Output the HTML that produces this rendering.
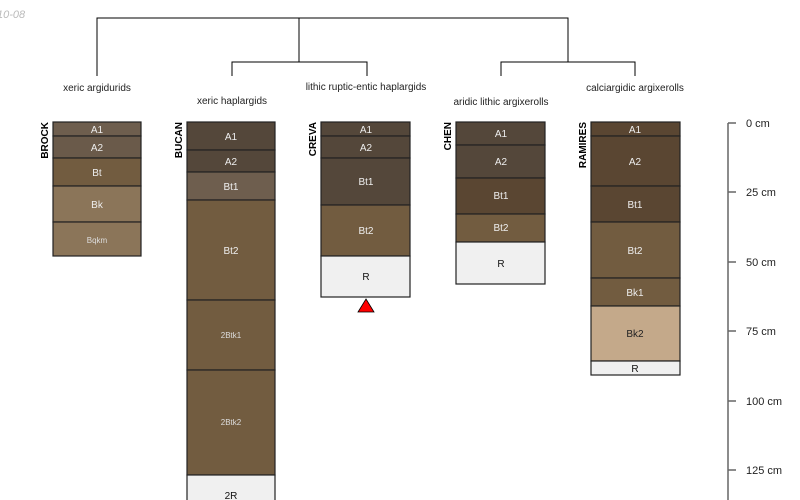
<!DOCTYPE html>
<html><head><meta charset="utf-8"><style>
html,body{margin:0;padding:0;background:#fff;}
svg{display:block;font-family:"Liberation Sans",sans-serif;}
</style></head><body>
<svg width="800" height="500" viewBox="0 0 800 500" xmlns="http://www.w3.org/2000/svg">
<text x="-3" y="18" font-size="11" font-style="italic" fill="#bbb">10-08</text>
<g stroke="#000" stroke-width="1" fill="none">
<polyline points="97,76 97,18 568,18 568,62"/>
<line x1="299" y1="18" x2="299" y2="62"/>
<polyline points="232,76 232,62 367,62 367,76"/>
<polyline points="501,76 501,62 635,62 635,76"/>
</g>
<g font-size="10" fill="#222" text-anchor="middle">
<text x="97" y="91">xeric argidurids</text>
<text x="232" y="104">xeric haplargids</text>
<text x="366" y="90">lithic ruptic-entic haplargids</text>
<text x="501" y="105">aridic lithic argixerolls</text>
<text x="635" y="91">calciargidic argixerolls</text>
</g>
<g stroke="#222" stroke-width="1.2">
<rect x="53" y="122" width="88" height="14" fill="#6e5e4e"/>
<rect x="53" y="136" width="88" height="22" fill="#6a5a4a"/>
<rect x="53" y="158" width="88" height="28" fill="#725c40"/>
<rect x="53" y="186" width="88" height="36" fill="#8b7559"/>
<rect x="53" y="222" width="88" height="34" fill="#8b7559"/>
<rect x="187" y="122" width="88" height="28" fill="#54473a"/>
<rect x="187" y="150" width="88" height="22" fill="#54473a"/>
<rect x="187" y="172" width="88" height="28" fill="#6e5e4e"/>
<rect x="187" y="200" width="88" height="100" fill="#725c40"/>
<rect x="187" y="300" width="88" height="70" fill="#725c40"/>
<rect x="187" y="370" width="88" height="105" fill="#725c40"/>
<rect x="187" y="475" width="88" height="30" fill="#f0f0f0"/>
<rect x="321" y="122" width="89" height="14" fill="#54473a"/>
<rect x="321" y="136" width="89" height="22" fill="#54473a"/>
<rect x="321" y="158" width="89" height="47" fill="#54473a"/>
<rect x="321" y="205" width="89" height="51" fill="#725c40"/>
<rect x="321" y="256" width="89" height="41" fill="#f0f0f0"/>
<rect x="456" y="122" width="89" height="23" fill="#54473a"/>
<rect x="456" y="145" width="89" height="33" fill="#54473a"/>
<rect x="456" y="178" width="89" height="36" fill="#5a4632"/>
<rect x="456" y="214" width="89" height="28" fill="#725c40"/>
<rect x="456" y="242" width="89" height="42" fill="#f0f0f0"/>
<rect x="591" y="122" width="89" height="14" fill="#5a4632"/>
<rect x="591" y="136" width="89" height="50" fill="#5a4632"/>
<rect x="591" y="186" width="89" height="36" fill="#5a4632"/>
<rect x="591" y="222" width="89" height="56" fill="#725c40"/>
<rect x="591" y="278" width="89" height="28" fill="#725c40"/>
<rect x="591" y="306" width="89" height="55" fill="#c4a98a"/>
<rect x="591" y="361" width="89" height="14" fill="#f0f0f0"/>
</g>
<polygon points="366,299 374,312 358,312" fill="#f00" stroke="#000" stroke-width="0.8"/>
<g font-size="10" text-anchor="middle" fill="#eee">
<text x="97" y="133">A1</text><text x="97" y="151">A2</text><text x="97" y="176">Bt</text><text x="97" y="208">Bk</text>
<text x="97" y="243" font-size="8" fill="#ddd">Bqkm</text>
<text x="231" y="140">A1</text><text x="231" y="165">A2</text><text x="231" y="190">Bt1</text><text x="231" y="254">Bt2</text>
<text x="231" y="338" font-size="8" fill="#ddd">2Btk1</text><text x="231" y="425" font-size="8" fill="#ddd">2Btk2</text>
<text x="231" y="499" fill="#111">2R</text>
<text x="366" y="133">A1</text><text x="366" y="151">A2</text><text x="366" y="185">Bt1</text><text x="366" y="234">Bt2</text>
<text x="366" y="280" fill="#111">R</text>
<text x="501" y="137">A1</text><text x="501" y="165">A2</text><text x="501" y="199">Bt1</text><text x="501" y="231">Bt2</text>
<text x="501" y="267" fill="#111">R</text>
<text x="635" y="133">A1</text><text x="635" y="165">A2</text><text x="635" y="208">Bt1</text><text x="635" y="254">Bt2</text>
<text x="635" y="296">Bk1</text><text x="635" y="337" fill="#222">Bk2</text><text x="635" y="372" fill="#111">R</text>
</g>
<g font-size="10" font-weight="bold" fill="#000" text-anchor="end">
<text transform="translate(48,122) rotate(-90)">BROCK</text>
<text transform="translate(182,122) rotate(-90)">BUCAN</text>
<text transform="translate(316,122) rotate(-90)">CREVA</text>
<text transform="translate(451,122) rotate(-90)">CHEN</text>
<text transform="translate(586,122) rotate(-90)">RAMIRES</text>
</g>
<g stroke="#666" stroke-width="1.5">
<line x1="728" y1="123" x2="728" y2="500"/>
<line x1="728" y1="123" x2="736" y2="123"/>
<line x1="728" y1="192" x2="736" y2="192"/>
<line x1="728" y1="262" x2="736" y2="262"/>
<line x1="728" y1="331" x2="736" y2="331"/>
<line x1="728" y1="401" x2="736" y2="401"/>
<line x1="728" y1="470" x2="736" y2="470"/>
</g>
<g font-size="11" fill="#222">
<text x="746" y="127">0 cm</text>
<text x="746" y="196">25 cm</text>
<text x="746" y="266">50 cm</text>
<text x="746" y="335">75 cm</text>
<text x="746" y="405">100 cm</text>
<text x="746" y="474">125 cm</text>
</g>
</svg>
</body></html>
